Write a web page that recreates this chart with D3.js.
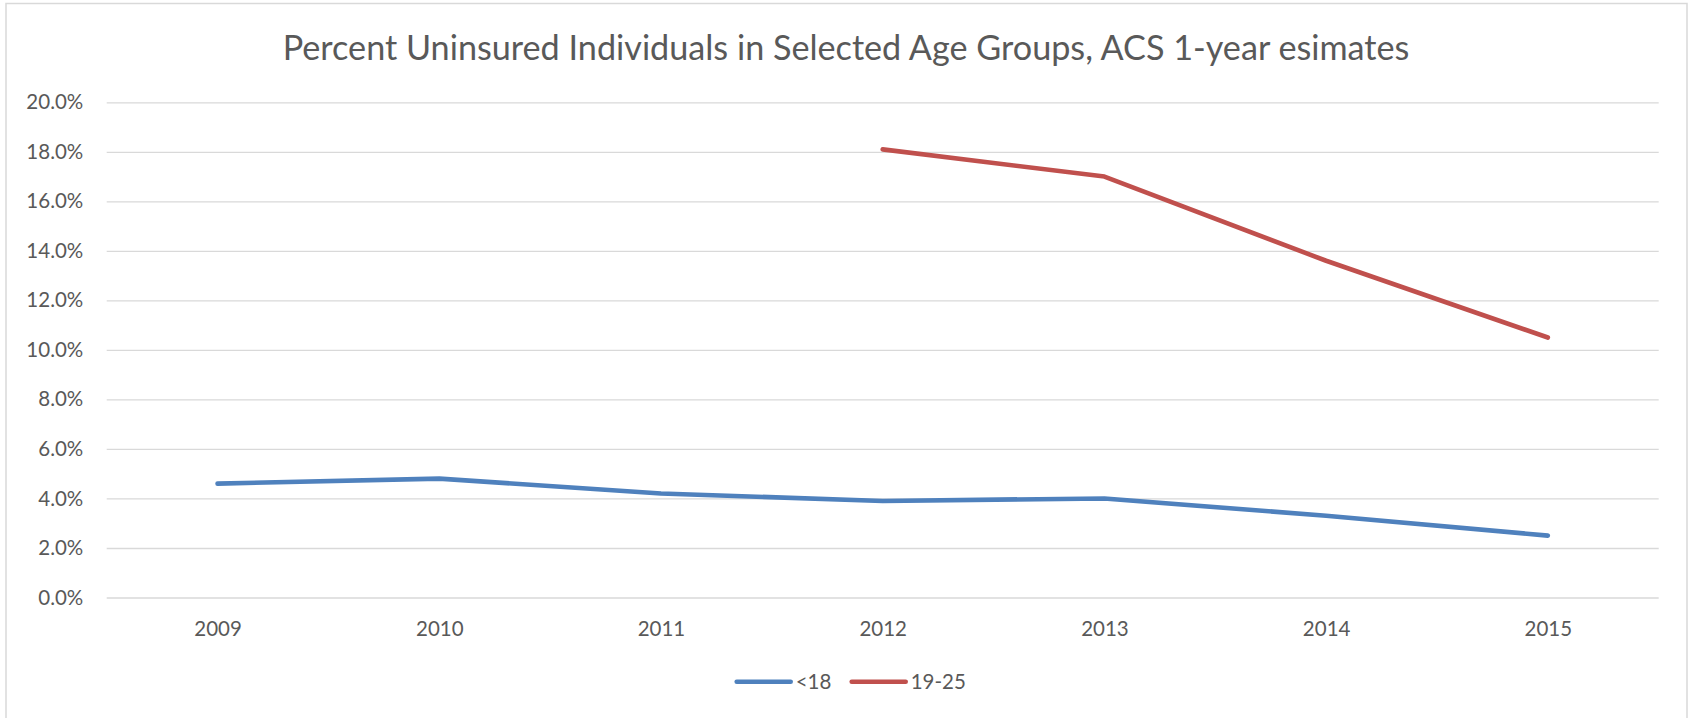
<html>
<head>
    <title>Percent Uninsured</title>
    <style>
        body{ margin:0; background:#fff; }
        text{ font-family:Lato, "Open Sans", sans-serif; fill:#595959; }
        .grid line{ stroke:#d9d9d9; stroke-width:1.3; }
        .series{ fill:none; stroke-width:4.6; stroke-linecap:round; stroke-linejoin:round; }
    </style>
</head>
<body>
<script src="https://cdn.jsdelivr.net/npm/d3@7"></script>
<script>
var width = 1688, height = 718;

// data (percent uninsured)
var years = ["2009", "2010", "2011", "2012", "2013", "2014", "2015"];
var under18 = [4.6, 4.8, 4.2, 3.9, 4.0, 3.3, 2.5];
var age19to25 = [null, null, null, 18.1, 17.0, 13.6, 10.5];
var seriesNames = ["<18", "19-25"];
var seriesColors = ["#4f81bd", "#c0504d"];
var yTicks = [0, 2, 4, 6, 8, 10, 12, 14, 16, 18, 20];
var title = "Percent Uninsured Individuals in Selected Age Groups, ACS 1-year esimates";

var plotLeft = 106.7, plotRight = 1658.7, plotTop = 102.3, plotBottom = 597.5;
var labelSize = "20.5px";

var svg = d3.select("body").append("svg")
            .attr("width", width)
            .attr("height", height);

// chart border (bottom edge runs off the picture)
svg.append("rect")
   .attr("x", 6)
   .attr("y", 3.5)
   .attr("width", 1681)
   .attr("height", 800)
   .attr("fill", "none")
   .attr("stroke", "#d9d9d9")
   .attr("stroke-width", 1.5);

svg.append("text")
   .attr("x", 846)
   .attr("y", 48)
   .attr("dy", "0.35em")
   .attr("text-anchor", "middle")
   .style("font-size", "34.2px")
   .text(title);

var x = d3.scalePoint()
          .domain(years)
          .range([plotLeft, plotRight])
          .padding(0.5);

var y = d3.scaleLinear()
          .domain([0, 20])
          .range([plotBottom, plotTop]);

var yAxis = d3.axisLeft(y)
              .tickValues(yTicks)
              .tickSize(-(plotRight - plotLeft))
              .tickPadding(23.4)
              .tickFormat(function(d){ return d3.format(".1f")(d) + "%"; });

svg.append("g")
   .attr("class", "grid")
   .attr("transform", "translate(" + plotLeft + ",0)")
   .call(yAxis)
   .call(function(g){ g.select(".domain").remove(); })
   .selectAll("text")
   .style("font-size", labelSize)
   .attr("fill", "#595959");

var xAxis = d3.axisBottom(x).tickSize(0).tickPadding(0);

svg.append("g")
   .attr("transform", "translate(0," + plotBottom + ")")
   .call(xAxis)
   .call(function(g){ g.select(".domain").remove(); })
   .selectAll("text")
   .attr("y", 31)
   .attr("dy", "0.35em")
   .style("font-size", labelSize)
   .attr("fill", "#595959");

var line = d3.line()
             .defined(function(d){ return d[1] != null; })
             .x(function(d){ return x(d[0]); })
             .y(function(d){ return y(d[1]); });

var allSeries = [under18, age19to25];
for(var i = 0; i < allSeries.length; i++){
    var pts = years.map(function(yr, j){ return [yr, allSeries[i][j]]; });
    svg.append("path")
       .attr("class", "series")
       .attr("stroke", seriesColors[i])
       .attr("d", line(pts));
}

// legend
var legendX = [736.7, 851.7];
for(i = 0; i < seriesNames.length; i++){
    svg.append("line")
       .attr("x1", legendX[i])
       .attr("x2", legendX[i] + 54)
       .attr("y1", 681.7)
       .attr("y2", 681.7)
       .attr("stroke", seriesColors[i])
       .attr("stroke-width", 4.6)
       .attr("stroke-linecap", "round");
    svg.append("text")
       .attr("x", legendX[i] + 59)
       .attr("y", 681.7)
       .attr("dy", "0.35em")
       .style("font-size", labelSize)
       .text(seriesNames[i]);
}
</script>
</body>
</html>
